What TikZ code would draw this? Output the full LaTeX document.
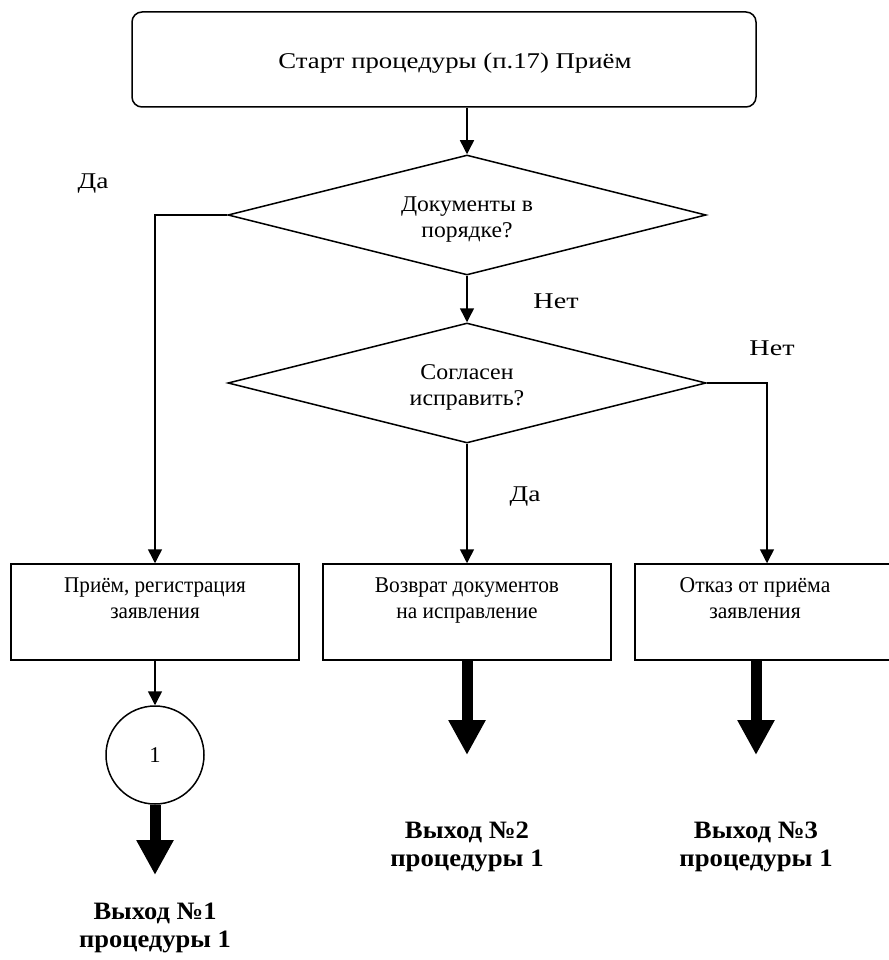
\documentclass[tikz,border=0pt]{standalone}
\usepackage{graphicx}
\usepackage{fontspec}
\setmainfont{Liberation Serif}
\usetikzlibrary{shapes.geometric,arrows.meta}
\newcommand{\mlx}[2]{\scalebox{#1}[1]{\begin{tabular}{@{}c@{}}#2\end{tabular}}}
\begin{document}
\begin{tikzpicture}[x=1pt,y=-1pt,line width=1.5pt,
  txt/.style={font=\fontsize{22.5}{26}\selectfont, inner sep=0pt},
  startbox/.style={draw, rectangle, rounded corners=10pt, minimum width=624pt, minimum height=95pt, inner sep=0pt},
  procbox/.style={draw, rectangle, minimum height=96pt, inner sep=0pt},
  decision/.style={draw, diamond, aspect=4, minimum width=478pt, minimum height=120pt, inner sep=0pt},
  conn/.style={circle, draw, minimum size=98pt, inner sep=0pt, font=\fontsize{22.5}{26}\selectfont},
  arr/.style={-{Triangle[width=14pt,length=14pt]}},
  bigarr/.style={line width=11pt, -{Triangle[width=35pt,length=35pt]}},
  exitlbl/.style={font=\bfseries\fontsize{25}{28}\selectfont, inner sep=0pt}
]
\useasboundingbox (0,0) rectangle (888,960);

\node[startbox] (start) at (444,59.5) {};
\node[txt] (starttxt) at (455,63) {\mlx{1.19}{Старт процедуры (п.17) Приём}};

\node[decision] (d1) at (467,215) {};
\node[decision] (d2) at (467,383) {};
\node[txt] (d1txt) at (467,219) {\mlx{1.05}{Документы в\\порядке?}};
\node[txt] (d2txt) at (467,387) {\mlx{1.06}{Согласен\\исправить?}};

\node[procbox, minimum width=288pt] (b1) at (155,612) {};
\node[procbox, minimum width=288pt] (b2) at (467,612) {};
\node[procbox, minimum width=264pt] (b3) at (767,612) {};

\node[txt] (t1) at (155,600) {\mlx{0.94}{Приём, регистрация\\заявления}};
\node[txt] (t2) at (467,600) {\mlx{0.95}{Возврат документов\\на исправление}};
\node[txt] (t3) at (755,600) {\mlx{0.96}{Отказ от приёма\\заявления}};

\node[conn] (c1) at (155,755) {1};

\coordinate (e1) at (155,875);
\coordinate (e2) at (467,755);
\coordinate (e3) at (756,755);

\node[exitlbl] (x1) at (155,928) {\mlx{1.06}{Выход №1\\процедуры 1}};
\node[exitlbl] (x2) at (467,847) {\mlx{1.07}{Выход №2\\процедуры 1}};
\node[exitlbl] (x3) at (756,847) {\mlx{1.07}{Выход №3\\процедуры 1}};

\node[txt] (l1) at (93,183) {\mlx{1.22}{Да}};
\node[txt] (l2) at (556,303) {\mlx{1.25}{Нет}};
\node[txt] (l3) at (772,350) {\mlx{1.25}{Нет}};
\node[txt] (l4) at (525,496) {\mlx{1.22}{Да}};

\draw[arr] (d1.north |- start.south) -- (d1.north);
\draw[arr] (d1.south) -- (d2.north);
\draw[arr] (d1.west) -| (b1.north);
\draw[arr] (d2.east) -| (b3.north);
\draw[arr] (d2.south) -- (b2.north);
\draw[arr] (b1.south) -- (c1.north);

\draw[bigarr] (c1.south) -- (e1);
\draw[bigarr] (b2.south) -- (e2);
\draw[bigarr] (e3 |- b3.south) -- (e3);
\end{tikzpicture}
\end{document}
